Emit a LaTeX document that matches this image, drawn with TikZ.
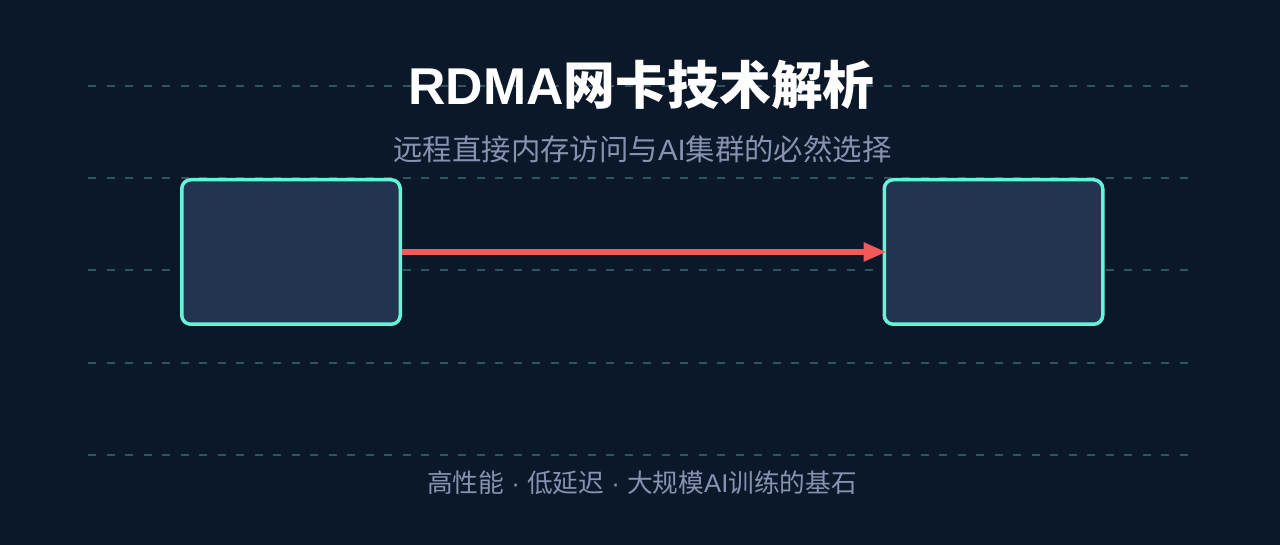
\documentclass[tikz,border=0pt]{standalone}
\usepackage{fontspec}
\setmainfont{Liberation Sans}
\newfontfamily\cjk{Noto Sans CJK SC}
\usetikzlibrary{arrows.meta}
\definecolor{bgnavy}{HTML}{0B1829}
\definecolor{boxnavy}{HTML}{233450}
\definecolor{cardteal}{HTML}{64F5D6}
\definecolor{linkred}{HTML}{F05A5A}
\definecolor{slate}{HTML}{8892B0}
\definecolor{gridteal}{HTML}{30555F}
\begin{document}
\begin{tikzpicture}[>={Triangle[length=23bp,width=18bp]},line join=bevel,
  card/.style={draw=cardteal,fill=boxnavy,line width=3.5bp,rounded corners=9bp,
    minimum width=218.5bp,minimum height=144.5bp,inner sep=0pt},
  guide/.style={gridteal,line width=2.5bp,dash pattern=on 8bp off 10.5bp}]
%%
\fill [bgnavy] (0bp,0bp) rectangle (1280bp,545bp);
\useasboundingbox (0bp,0bp) rectangle (1280bp,545bp);
\foreach \y in {459,367,275,182,90}
  \draw [guide] (88bp,\y bp) -- (1188bp,\y bp);
%
\node (node_0) at (291.0bp,293.0bp) [card] {};
  \node (node_1) at (993.5bp,293.0bp) [card] {};
  \node (title) at (641.5bp,440.0bp) [anchor=base,white] {\fontsize{52}{52}\selectfont\bfseries RDMA{\cjk\bfseries 网卡技术解析}};
  \node (subtitle) at (642.5bp,384.0bp) [anchor=base,slate] {\fontsize{29.5}{30}\selectfont\cjk 远程直接内存访问与{\rmfamily AI}集群的必然选择};
  \node (footer) at (642.0bp,52.0bp) [anchor=base,slate] {\fontsize{25.8}{26}\selectfont\cjk 高性能{\rmfamily\ ·\ }低延迟{\rmfamily\ ·\ }大规模{\rmfamily AI}训练的基石};
  \draw [linkred,line width=6.5bp,->,shorten >=-4bp] (node_0) -- (node_1);
%
\end{tikzpicture}
\end{document}
